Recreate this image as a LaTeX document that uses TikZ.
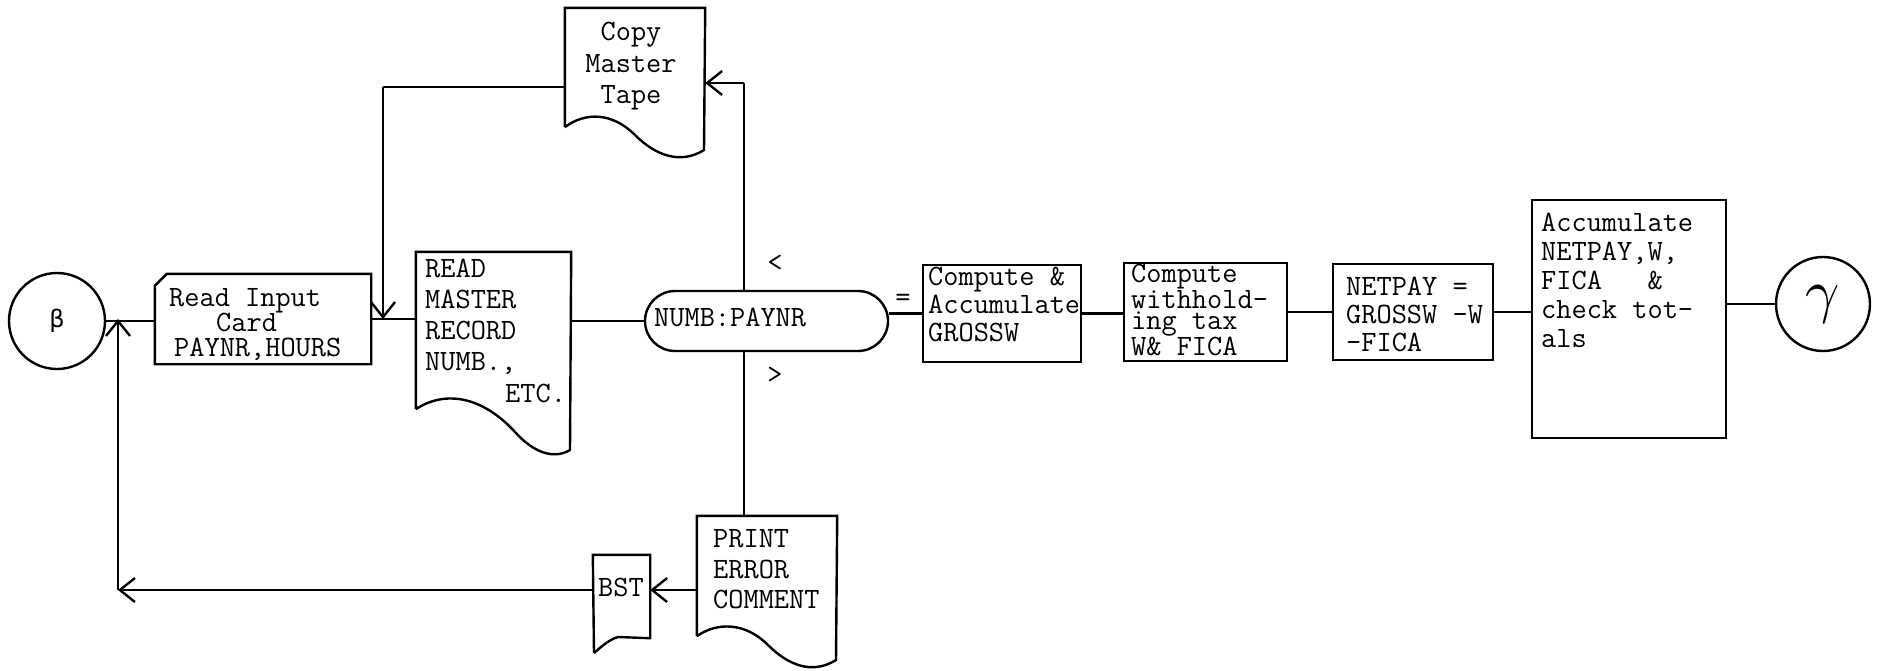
\documentclass[tikz,border=0pt]{standalone}
\usepackage{fontspec}
\usepackage{graphicx}
\usetikzlibrary{arrows.meta,calc}
\newfontfamily\symfont{DejaVu Sans}
\newcommand\dgfont{\fontsize{29.5}{31}\selectfont\ttfamily\addfontfeatures{FakeBold=0.6}}
\begin{document}
\begin{tikzpicture}[x=1pt,y=-1pt,line width=2.4pt,
  box/.style={draw,inner sep=0pt},
  shp/.style={inner sep=0pt},
  t/.style={font=\dgfont,inner sep=0pt,anchor=base west},
  tc/.style={font=\dgfont,inner sep=0pt,anchor=base},
  arr/.style={-{Straight Barb[length=15pt,width=24pt,line width=2.4pt]}}]
\useasboundingbox (0,0) rectangle (1898,670);

% ---- shapes ----
\node[draw,circle,minimum size=96pt,inner sep=0pt] (beta) at (57,321) {\fontsize{24}{24}\selectfont\symfont β};
\node[shp,minimum width=214pt,minimum height=88pt] (card) at (263,319) {};
\draw (card.south west) -- ($(card.north west)+(0,12)$) -- ($(card.north west)+(12,0)$) -- (card.north east) -- (card.south east) -- cycle;

\node[shp,minimum width=153pt,minimum height=155pt] (rm) at (493.5,330.5) {};
\draw (rm.south west) -- (rm.north west) -- (rm.north east) -- (570,450)
  .. controls (553,460) and (533,452) .. (515,432)
  .. controls (482,396) and (445,390) .. (rm.south west);

\node[shp,minimum width=138pt,minimum height=117pt] (cm) at (635,67.5) {};
\draw (cm.south west) -- (cm.north west) -- (cm.north east) -- (704,150)
  .. controls (680,165) and (655,155) .. (635,135)
  .. controls (612,112) and (585,112) .. (cm.south west);

\node[draw,rounded corners=30pt,minimum width=243pt,minimum height=60pt,inner sep=0pt] (numb) at (766.5,321) {};

\node[shp,minimum width=138pt,minimum height=118pt] (pe) at (767,576) {};
\draw (pe.south west) -- (pe.north west) -- (pe.north east) -- (836,660)
  .. controls (812,675) and (788,665) .. (768,645)
  .. controls (745,622) and (717,622) .. (pe.south west);

\node[shp,minimum width=55pt,minimum height=81pt] (bst) at (621.5,596.5) {};
\draw (594,653) -- (bst.north west) -- (bst.north east) -- (bst.south east) -- (618,637)
  .. controls (608,640) and (600,648) .. (594,653);

\node[box,minimum width=158pt,minimum height=97pt] (comp) at (1002,313.5) {};
\node[box,minimum width=163pt,minimum height=98pt] (wh) at (1205.5,312) {};
\node[box,minimum width=160pt,minimum height=96pt] (np) at (1413,312) {};
\node[box,minimum width=194pt,minimum height=238pt] (acc) at (1629,319) {};
\node[draw,circle,minimum size=94pt,inner sep=0pt] (gam) at (1823,304) {\scalebox{6}{$\gamma$}};

% ---- texts ----
\node[t] (c1) at (168,306) {Read Input};
\node[t] (c2) at (215,331) {Card};
\node[t] (c3) at (173,356) {PAYNR,HOURS};

\node[t] (r1) at (424,277) {READ};
\node[t] (r2) at (424,308) {MASTER};
\node[t] (r3) at (424,339) {RECORD};
\node[t] (r4) at (424,370) {NUMB.,};
\node[t] (r5) at (504,402) {ETC.};

\node[tc] (m1) at (631,40) {Copy};
\node[tc] (m2) at (631,72) {Master};
\node[tc] (m3) at (631,103) {Tape};

\node[t] (n1) at (653,326) {NUMB:PAYNR};
\node[tc] (lt) at (775,271) {<};
\node[tc] (gt) at (775,383) {>};
\node[tc] (eq) at (903,306) {=};

\node[t] (a1) at (927,285) {Compute \&};
\node[t] (a2) at (927,313) {Accumulate};
\node[t] (a3) at (927,341) {GROSSW};

\node[t] (w1) at (1130,282) {Compute};
\node[t] (w2) at (1130,308) {withhold-};
\node[t] (w3) at (1130,329) {ing tax};
\node[t] (w4) at (1130,355) {W\& FICA};

\node[t] (p1) at (1345,295) {NETPAY =};
\node[t] (p2) at (1345,323) {GROSSW -W};
\node[t] (p3) at (1345,351) {-FICA};

\node[t] (s1) at (1540,231) {Accumulate};
\node[t] (s2) at (1540,260) {NETPAY,W,};
\node[t] (s3) at (1540,289) {FICA\ \ \ \&};
\node[t] (s4) at (1540,318) {check tot-};
\node[t] (s5) at (1540,347) {als};

\node[t] (e1) at (712,547) {PRINT};
\node[t] (e2) at (712,578) {ERROR};
\node[t] (e3) at (712,608) {COMMENT};

\node[tc] (b1) at (621,596) {BST};

% ---- connectors ----
\coordinate (J) at (383,319);
\coordinate (JT) at (383,87);
\coordinate (VT) at (744,83);
\coordinate (BL) at (118,590);
\coordinate (ML) at (118,319);

\draw (beta.east) -- (beta.east -| card.west);
\draw (card.east) -- (rm.west |- card.east);
\draw (cm.west |- JT) -- (JT);
\draw[arr] (JT) -- (J);
\draw (rm.east |- numb.west) -- (numb.west);
\draw (numb.north -| VT) -- (VT);
\draw[arr] (VT) -- (cm.east |- VT);
\draw (numb.south -| VT) -- (pe.north -| VT);
\draw (numb.east |- comp.west) -- (comp.west);
\draw (comp.east) -- (comp.east -| wh.west);
\draw (wh.east) -- (wh.east -| np.west);
\draw (np.east) -- (np.east -| acc.west);
\draw (acc.east |- gam.west) -- (gam.west);
\draw[arr] (pe.west |- BL) -- (bst.east |- BL);
\draw[arr] (bst.west |- BL) -- (BL);
\draw[arr] (BL) -- (ML);
\end{tikzpicture}
\end{document}
